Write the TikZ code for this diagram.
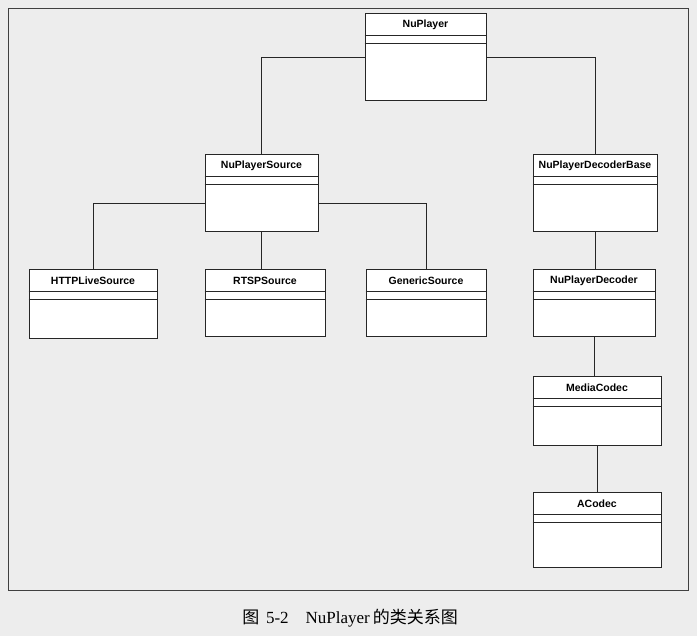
\documentclass[tikz,border=0pt]{standalone}
\usepackage{fontspec}
\setmainfont{Liberation Sans}
\newfontfamily\cjk{Noto Sans CJK SC}
\newfontfamily\serifl{Liberation Serif}
\begin{document}
\begin{tikzpicture}[x=1pt,y=-1pt,
  box/.style={draw=black!85,fill=white,line width=1pt,inner sep=0pt},
  ttl/.style={font=\bfseries\fontsize{10.5}{12}\selectfont,inner sep=0pt,anchor=center},
  link/.style={draw=black!85,line width=1pt}]
\useasboundingbox (0,0) rectangle (697,636);
\fill[black!7] (0,0) rectangle (697,636);
\draw[black!75,line width=0.9pt] (8,8) rectangle (688,590);
\newcommand\umlbox[6]{%
  \node[box,minimum width=#4-#2,minimum height=#5-#3] (#1) at ({(#2+#4)/2},{(#3+#5)/2}) {};
  \node[ttl] (#1t) at ({(#2+#4)/2},#3+11) {#6};
  \draw[line width=1pt,black!85] ([yshift=-22pt]#1.north west) -- ([yshift=-22pt]#1.north east);
  \draw[line width=1pt,black!85] ([yshift=-30pt]#1.north west) -- ([yshift=-30pt]#1.north east);}
\umlbox{np}{365}{14}{486}{101}{NuPlayer}
\umlbox{src}{205}{155}{318}{232}{NuPlayerSource}
\umlbox{dbase}{533}{155}{657}{232}{NuPlayerDecoderBase}
\umlbox{http}{29}{270}{157}{339}{HTTPLiveSource}
\umlbox{rtsp}{205}{270}{325}{337}{RTSPSource}
\umlbox{gen}{366}{270}{486}{337}{GenericSource}
\umlbox{dec}{533}{270}{655}{337}{NuPlayerDecoder}
\umlbox{mc}{533}{377}{661}{446}{MediaCodec}
\umlbox{ac}{533}{493}{661}{567}{ACodec}
\draw[link] (np.west) -| (src.north);
\draw[link] (np.east) -| (dbase.north);
\draw[link] ([yshift=-10pt]src.west) -| (http.north);
\draw[link] ([yshift=-10pt]src.east) -| (gen.north);
\draw[link] (src.south) -- (src.south |- rtsp.north);
\draw[link] (dbase.south) -- (dbase.south |- dec.north);
\draw[link] (dec.south) -- (dec.south |- mc.north);
\draw[link] (mc.south) -- (ac.north);
\node[font=\fontsize{17}{20}\selectfont] (cap) at (350,618) {{\cjk 图}\hspace{0.4em}{\serifl 5-2}\hspace{1em}{\serifl NuPlayer}\,{\cjk 的类关系图}};
\end{tikzpicture}
\end{document}
